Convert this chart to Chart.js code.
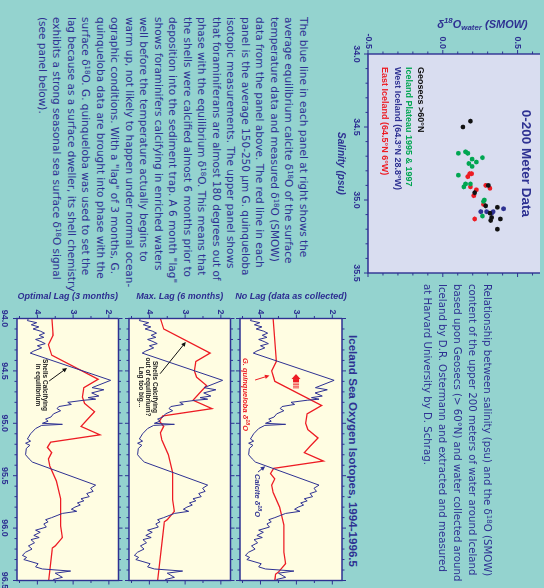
<!DOCTYPE html>
<html>
<head>
<meta charset="utf-8">
<title>Iceland Sea oxygen isotopes</title>
<script src="https://cdn.jsdelivr.net/npm/chart.js@4.4.1/dist/chart.umd.min.js"></script>
<style>
  html, body { margin: 0; padding: 0; background: #94d3cf; }
  body { width: 544px; height: 588px; overflow: hidden; position: relative; }
  /* the poster sits on its side: build it upright, then turn it */
  #poster { position: absolute; left: 0; top: 0; width: 588px; height: 544px; background: #94d3cf;
            transform-origin: 0 0; transform: translate(544px, 0) rotate(90deg); overflow: hidden; color: #2e3192; }
  #poster canvas { position: absolute; }
  .copy { position: absolute; font-family: "DejaVu Sans", Verdana, sans-serif; font-size: 10.5px; white-space: nowrap; }
  .copy sup { font-size: 7px; line-height: 0; vertical-align: 3px; }
  #about { left: 284px; top: 50px; line-height: 14.9px; font-size: 10.2px; }
  #story { left: 17px; top: 233px; line-height: 14.52px; }
  #seriesTitle { position: absolute; left: 301px; width: 300px; top: 184px; line-height: 12px; text-align: center;
                 font: bold 11.6px "Liberation Sans", Arial, sans-serif; white-space: nowrap; }
</style>
</head>
<body>
<div id="poster">
  <canvas id="waterChart" width="290" height="215" style="left:0;top:0"></canvas>
  <div class="copy" id="about">Relationship between salinity (psu) and the δ<sup>18</sup>O (SMOW)<br>content of the upper 200 meters of water around Iceland<br>based upon Geosecs (&gt; 60°N) and water collected around<br>Iceland by D.R. Ostermann and extracted and measured<br>at Harvard University by D. Schrag.</div>
  <div id="seriesTitle">Iceland Sea Oxygen Isotopes, 1994-1996.5</div>
  <div class="copy" id="story">The blue line in each panel at right shows the<br>average equilibrium calcite δ<sup>18</sup>O of the surface<br>temperature data and measured δ<sup>18</sup>O (SMOW)<br>data from the panel above. The red line in each<br>panel is the average 150-250 µm G. quinqueloba<br>isotopic measurements. The upper panel shows<br>that foraminiferans are almost 180 degrees out of<br>phase with the equilibrium δ<sup>18</sup>O. This means that<br>the shells were calcified almost 6 months prior to<br>deposition into the sediment trap. A 6 month "lag"<br>shows foraminifers calcifying in enriched waters<br>well before the temperature actually begins to<br>warm up, not likely to happen under normal ocean-<br>ographic conditions. With a "lag" of 3 months, G.<br>quinqueloba data are brought into phase with the<br>surface δ<sup>18</sup>O. G. quinqueloba was used to set the<br>lag because as a surface dweller, its shell chemistry<br>exhibits a strong seasonal sea surface δ<sup>18</sup>O signal<br>(see panel below).</div>
  <canvas id="lag0" width="300" height="115" style="left:288px;top:195px"></canvas>
  <canvas id="lag1" width="300" height="115" style="left:288px;top:306px"></canvas>
  <canvas id="lag2" width="300" height="126" style="left:288px;top:418px"></canvas>
</div>

<script>
const NAVY = "#2e3192";
const RED = "#ed1c24";
const GREEN = "#00a651";
const BLACK = "#111111";
const FONT = '"Liberation Sans", Arial, sans-serif';

// ---- 0-200 m water: salinity vs d18O ----
const seriesNames = ["Geosecs >60°N", "Iceland Plateau 1995 & 1997", "West Iceland (64.3°N 28.8°W)", "East Iceland (64.5°N 6°W)"];
const seriesColors = [BLACK, GREEN, NAVY, RED];
const geosecsSal = [34.46, 34.50, 34.90, 34.95, 35.04, 35.05, 35.09, 35.12, 35.14, 35.13, 35.20];
const geosecsIso = [0.185, 0.135, 0.304, 0.213, 0.287, 0.365, 0.315, 0.326, 0.320, 0.385, 0.365];
const plateauSal = [34.68, 34.67, 34.68, 34.72, 34.74, 34.71, 34.75, 34.77, 34.83, 34.89, 34.91, 34.89, 35.00, 35.01, 35.11];
const plateauIso = [0.104, 0.152, 0.167, 0.196, 0.224, 0.265, 0.174, 0.196, 0.104, 0.152, 0.141, 0.185, 0.278, 0.272, 0.265];
const westSal = [35.08, 35.08, 35.08, 35.09, 35.06];
const westIso = [0.254, 0.293, 0.337, 0.326, 0.406];
const eastSal = [34.84, 34.82, 34.82, 34.91, 34.97, 34.93, 34.90, 34.92, 35.03, 35.13];
const eastIso = [0.167, 0.180, 0.193, 0.185, 0.207, 0.224, 0.287, 0.315, 0.272, 0.213];
const salinityTicks = [34.0, 34.5, 35.0, 35.5];
const waterIsoTicks = [-0.5, 0.0, 0.5];

// ---- sediment trap time series ----
const calciteYears = [94.00, 94.02, 94.04, 94.06, 94.08, 94.10, 94.12, 94.14, 94.16, 94.18, 94.20, 94.22, 94.24, 94.26, 94.28, 94.31, 94.33,
  94.59, 94.66, 94.68, 94.71, 94.74, 94.755, 94.77, 94.78, 94.80, 94.82, 94.84, 94.86, 94.88, 94.91, 94.94, 94.96, 94.98,
  95.00, 95.01, 95.02, 95.05, 95.10, 95.15, 95.17, 95.19, 95.21, 95.24, 95.30, 95.34, 95.37,
  95.59, 95.62, 95.65, 95.67, 95.70, 95.72, 95.74, 95.76, 95.78, 95.80, 95.82, 95.84, 95.86, 95.88, 95.90, 95.92, 95.94, 95.96, 95.99,
  96.02, 96.04, 96.07, 96.09, 96.11, 96.14, 96.17, 96.20, 96.23, 96.26, 96.28, 96.30, 96.32, 96.34, 96.37, 96.39, 96.41, 96.43, 96.45, 96.47, 96.49, 96.50];
const calciteIso = [4.25, 4.28, 4.02, 4.17, 3.96, 4.12, 3.92, 3.80, 3.95, 3.82, 4.05, 3.90, 3.78, 4.00, 3.88, 4.10, 4.20,
  1.95, 2.47, 2.14, 2.48, 2.28, 2.58, 2.37, 2.70, 3.15, 3.05, 3.40, 3.45, 3.35, 3.55, 3.62, 3.77, 3.70,
  3.86, 3.30, 3.88, 4.05, 4.19, 4.28, 4.19, 4.33, 4.21, 4.31, 4.33, 4.23, 4.14,
  2.37, 2.51, 2.44, 2.62, 2.55, 2.78, 2.70, 2.88, 2.80, 2.95, 3.05, 2.90, 3.30, 3.45, 3.60, 3.77, 3.70, 3.82, 3.75,
  4.05, 3.92, 4.10, 3.95, 4.18, 4.08, 4.25, 4.15, 4.33, 4.42, 4.30, 4.38, 4.18, 3.98, 4.05, 3.86, 3.07, 3.50, 3.40, 3.30, 3.55, 3.50];
const quinqYears = [94.00, 94.41, 94.50, 94.60, 94.83, 94.91, 95.00, 95.06, 95.14, 95.22, 95.28, 95.36, 95.43, 95.48, 95.53, 95.59, 95.66, 95.80, 95.97, 96.23, 96.34, 96.42, 96.44, 97.00];
const quinqIso = [3.65, 3.56, 3.69, 3.60, 2.30, 2.70, 2.74, 2.68, 2.40, 2.62, 2.78, 2.25, 3.63, 3.72, 3.60, 3.69, 3.65, 3.47, 3.35, 3.35, 3.30, 3.50, 3.58, 3.77];
const panelTitles = ["No Lag (data as collected)", "Max. Lag (6 months)", "Optimal Lag (3 months)"];
const panelLags = [0, 0.5, 0.25];
const yearTicks = [94.0, 94.5, 95.0, 95.5, 96.0, 96.5];
const calciteIsoTicks = [2, 3, 4];

// notes inside the panels, placed in data units (year, d18O)
const panelNotes = [
  {
    labels: [
      { at: [94.377, 4.43], parts: [["G. quinqueloba δ", ""], ["18", "sup"], ["O", ""]], color: RED, size: 7.5, style: "italic", align: "left" },
      { at: [95.484, 4.10], parts: [["Calcite δ", ""], ["18", "sup"], ["O", ""]], color: NAVY, size: 7.5, style: "italic", align: "left" },
    ],
    arrows: [
      { from: [94.587, 4.15], to: [94.544, 3.75], color: RED },
      { from: [95.465, 4.07], to: [95.41, 3.87], color: NAVY },
    ],
    shift: [94.53, 3.01],
  },
  {
    labels: [
      { at: [94.654, 3.84], parts: [["Shells Calcifying", ""]], color: "#222", size: 6.5, style: "normal", align: "center" },
      { at: [94.654, 4.04], parts: [["out of equilibrium?", ""]], color: "#222", size: 6.5, style: "normal", align: "center" },
      { at: [94.654, 4.23], parts: [["Lag too big...", ""]], color: "#222", size: 6.5, style: "normal", align: "center" },
    ],
    arrows: [{ from: [94.527, 3.70], to: [94.224, 2.98], color: "#111" }],
  },
  {
    labels: [
      { at: [94.635, 3.78], parts: [["Shells Calcifying", ""]], color: "#222", size: 6.5, style: "normal", align: "center" },
      { at: [94.635, 3.99], parts: [["in equilibrium", ""]], color: "#222", size: 6.5, style: "normal", align: "center" },
    ],
    arrows: [{ from: [94.596, 3.67], to: [94.472, 3.17], color: "#111" }],
  },
];

Chart.defaults.font.family = FONT;

function drawRich(ctx, parts, x, y, { size, style = "normal", color, align = "left" }) {
  const fontFor = (kind) => `${style} bold ${kind ? size * 0.72 : size}px ${FONT}`;
  let width = 0;
  parts.forEach(([t, kind]) => { ctx.font = fontFor(kind); width += ctx.measureText(t).width; });
  let cx = align === "center" ? x - width / 2 : x;
  ctx.fillStyle = color;
  ctx.textAlign = "left";
  ctx.textBaseline = "middle";
  parts.forEach(([t, kind]) => {
    ctx.font = fontFor(kind);
    const dy = kind === "sup" ? -size * 0.35 : kind === "sub" ? size * 0.3 : 0;
    ctx.fillText(t, cx, y + dy);
    cx += ctx.measureText(t).width;
  });
}

function drawArrow(ctx, [x1, y1], [x2, y2], color) {
  const ang = Math.atan2(y2 - y1, x2 - x1);
  ctx.strokeStyle = color;
  ctx.fillStyle = color;
  ctx.lineWidth = 1;
  ctx.beginPath();
  ctx.moveTo(x1, y1);
  ctx.lineTo(x2 - 3 * Math.cos(ang), y2 - 3 * Math.sin(ang));
  ctx.stroke();
  ctx.beginPath();
  ctx.moveTo(x2, y2);
  ctx.lineTo(x2 - 5 * Math.cos(ang - 0.45), y2 - 5 * Math.sin(ang - 0.45));
  ctx.lineTo(x2 - 5 * Math.cos(ang + 0.45), y2 - 5 * Math.sin(ang + 0.45));
  ctx.closePath();
  ctx.fill();
}

// striped red arrow pointing back in time
function drawShiftArrow(ctx, [hx, hy]) {
  ctx.fillStyle = RED;
  ctx.strokeStyle = RED;
  ctx.beginPath();
  ctx.moveTo(hx, hy);
  ctx.lineTo(hx + 5, hy - 4.5);
  ctx.lineTo(hx + 5, hy + 4.5);
  ctx.closePath();
  ctx.fill();
  ctx.fillRect(hx + 5, hy - 3, 3, 6);
  ctx.lineWidth = 0.8;
  for (let sx = hx + 9; sx <= hx + 15; sx += 1.6) {
    ctx.beginPath();
    ctx.moveTo(sx, hy - 3);
    ctx.lineTo(sx, hy + 3);
    ctx.stroke();
  }
}

// filled plot area, outline and outward tick marks
const framePlugin = {
  id: "frame",
  beforeDraw(chart, args, o) {
    const { ctx, chartArea: a } = chart;
    ctx.save();
    ctx.fillStyle = o.fill;
    ctx.fillRect(a.left, a.top, a.right - a.left, a.bottom - a.top);
    ctx.restore();
  },
  afterDatasetsDraw(chart, args, o) {
    const { ctx, chartArea: a, scales } = chart;
    ctx.save();
    ctx.strokeStyle = NAVY;
    ctx.lineWidth = 1;
    const marks = (scale, step, major, draw) => {
      for (let i = Math.ceil(scale.min / step - 1e-6); i * step <= scale.max + 1e-6; i++) {
        const v = i * step;
        const isMajor = Math.abs(v / major - Math.round(v / major)) < 1e-6;
        draw(scale.getPixelForValue(v), isMajor ? 4 : 2.5);
      }
    };
    ctx.beginPath();
    marks(scales.x, o.xStep, o.xMajor, (p, len) => {
      ctx.moveTo(p, a.bottom); ctx.lineTo(p, a.bottom + len);
      if (o.sides.includes("t")) { ctx.moveTo(p, a.top); ctx.lineTo(p, a.top - len); }
    });
    marks(scales.y, o.yStep, o.yMajor, (p, len) => {
      ctx.moveTo(a.left, p); ctx.lineTo(a.left - len, p);
      ctx.moveTo(a.right, p); ctx.lineTo(a.right + len, p);
    });
    ctx.stroke();
    ctx.lineWidth = 1.4;
    ctx.beginPath();
    ctx.moveTo(a.left, a.top); ctx.lineTo(a.left, a.bottom); ctx.lineTo(a.right, a.bottom); ctx.lineTo(a.right, a.top);
    if (o.sides.includes("t")) ctx.lineTo(a.left, a.top);
    ctx.stroke();
    ctx.restore();
  },
};

const notesPlugin = {
  id: "notes",
  afterDatasetsDraw(chart, args, o) {
    const note = panelNotes[o.panel];
    const { ctx, scales: { x, y } } = chart;
    const px = (p) => [x.getPixelForValue(p[0]), y.getPixelForValue(p[1])];
    ctx.save();
    note.arrows.forEach((ar) => drawArrow(ctx, px(ar.from), px(ar.to), ar.color));
    note.labels.forEach((l) => {
      const [lx, ly] = px(l.at);
      drawRich(ctx, l.parts, lx, ly, l);
    });
    if (note.shift) drawShiftArrow(ctx, px(note.shift));
    ctx.restore();
  },
};

const waterNotesPlugin = {
  id: "waterNotes",
  afterDraw(chart) {
    const { ctx, scales: { x, y } } = chart;
    ctx.save();
    drawRich(ctx, [["0-200 Meter Data", ""]], x.getPixelForValue(34.749), y.getPixelForValue(0.556),
      { size: 13.5, color: NAVY, align: "center" });
    const legendIso = [-0.148, -0.226, -0.304, -0.389];
    seriesNames.forEach((name, i) => {
      drawRich(ctx, [[name, ""]], x.getPixelForValue(34.089), y.getPixelForValue(legendIso[i]),
        { size: 9, color: seriesColors[i] });
    });
    ctx.translate(25, 61.5);
    ctx.rotate(-Math.PI / 2);
    drawRich(ctx, [["δ", ""], ["18", "sup"], ["O", ""], ["water", "sub"], [" (SMOW)", ""]], 0, 0,
      { size: 11, style: "italic", color: NAVY, align: "center" });
    ctx.restore();
  },
};

const tickFont = { size: 9, weight: "bold" };
const noGrid = { display: false, drawTicks: false };

const toPoints = (xs, ys, shift = 0) => xs.map((v, i) => ({ x: v - shift, y: ys[i] }));

new Chart(document.getElementById("waterChart"), {
  type: "scatter",
  data: {
    datasets: [
      [geosecsSal, geosecsIso],
      [plateauSal, plateauIso],
      [westSal, westIso],
      [eastSal, eastIso],
    ].map(([sal, iso], i) => ({
      label: seriesNames[i],
      data: toPoints(sal, iso),
      backgroundColor: seriesColors[i],
      borderWidth: 0,
      pointRadius: 2.4,
    })),
  },
  options: {
    responsive: false,
    animation: false,
    layout: { padding: { top: 0, right: 17, bottom: 0, left: 0 } },
    plugins: {
      legend: { display: false },
      tooltip: { enabled: false },
      frame: { fill: "#d9ddf0", sides: "lbr", xStep: 0.1, xMajor: 0.5, yStep: 0.1, yMajor: 0.5 },
    },
    scales: {
      x: {
        type: "linear", min: 34.0, max: 35.5,
        grid: noGrid, border: { display: false },
        afterBuildTicks: (s) => { s.ticks = salinityTicks.map((v) => ({ value: v })); },
        afterFit: (s) => { s.height = 39; s.paddingLeft = 0; s.paddingRight = 0; },
        ticks: { padding: 6.6, color: NAVY, font: tickFont, maxRotation: 0, autoSkip: false, callback: (v) => v.toFixed(1) },
        title: { display: true, text: "Salinity (psu)", color: NAVY, font: { size: 10, weight: "bold", style: "italic" }, padding: { top: 0, bottom: 6 } },
      },
      y: {
        type: "linear", min: -0.5, max: 0.65,
        grid: noGrid, border: { display: false },
        afterBuildTicks: (s) => { s.ticks = waterIsoTicks.map((v) => ({ value: v })); },
        afterFit: (s) => { s.width = 54; s.paddingTop = 0; s.paddingBottom = 0; },
        ticks: { padding: 5, color: NAVY, font: tickFont, callback: (v) => v.toFixed(1) },
      },
    },
  },
  plugins: [framePlugin, waterNotesPlugin],
});

function makePanel(canvasId, panel) {
  const isBottom = panel === panelTitles.length - 1;
  return new Chart(document.getElementById(canvasId), {
    type: "line",
    data: {
      datasets: [
        { label: "Calcite δ18O", data: toPoints(calciteYears, calciteIso), borderColor: NAVY, borderWidth: 1, pointRadius: 0, tension: 0 },
        { label: "G. quinqueloba δ18O", data: toPoints(quinqYears, quinqIso, panelLags[panel]), borderColor: RED, borderWidth: 1.3, pointRadius: 0, tension: 0 },
      ],
    },
    options: {
      responsive: false,
      animation: false,
      layout: { padding: { top: panel === 0 ? 7 : 7.5, right: 7.5, bottom: 0, left: 0 } },
      plugins: {
        legend: { display: false },
        tooltip: { enabled: false },
        frame: { fill: "#fffde2", sides: "lbrt", xStep: 0.1, xMajor: 0.5, yStep: 0.5, yMajor: 1 },
        notes: { panel },
      },
      scales: {
        x: {
          type: "linear", min: 94.0, max: 96.5,
          grid: noGrid, border: { display: false },
          afterBuildTicks: (s) => { s.ticks = yearTicks.map((v) => ({ value: v })); },
          afterFit: (s) => { s.height = isBottom ? 17 : 6; s.paddingLeft = 0; s.paddingRight = 0; },
          ticks: { display: isBottom, padding: 7.6, color: NAVY, font: tickFont, maxRotation: 0, autoSkip: false, callback: (v) => v.toFixed(1) },
        },
        y: {
          type: "linear", reverse: true, min: 1.73, max: 4.57,
          grid: noGrid, border: { display: false },
          afterBuildTicks: (s) => { s.ticks = calciteIsoTicks.map((v) => ({ value: v })); },
          afterFit: (s) => { s.width = 30.5; s.paddingTop = 0; s.paddingBottom = 0; },
          ticks: { padding: 4, color: NAVY, font: tickFont, callback: (v) => String(v) },
          title: { display: true, text: panelTitles[panel], color: NAVY, font: { size: 9, weight: "bold", style: "italic" }, padding: { top: 3.5, bottom: 0 } },
        },
      },
    },
    plugins: [framePlugin, notesPlugin],
  });
}

panelTitles.forEach((title, i) => makePanel(`lag${i}`, i));
</script>
</body>
</html>
